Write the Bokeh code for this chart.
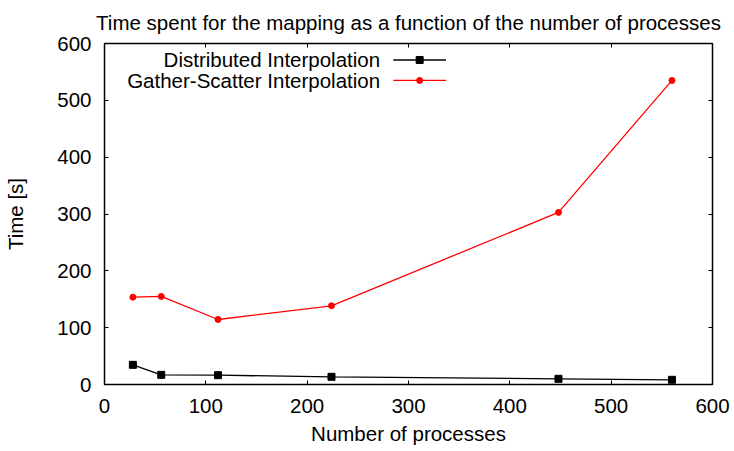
from bokeh.plotting import figure
from bokeh.models import Range1d, LinearAxis, FixedTicker, CustomJSTickFormatter, Label
from bokeh.embed import file_html
from bokeh.resources import INLINE

# ---- data ----
processes = [28, 56, 112, 224, 448, 560]
distributed = [34.6, 17.0, 16.4, 13.5, 10.0, 8.3]
gather_scatter = [153.7, 155.0, 114.4, 138.5, 302.8, 535.0]
series_names = ["Distributed Interpolation", "Gather-Scatter Interpolation"]
series_colors = ["#000000", "#ff0000"]
x_ticks = [0, 100, 200, 300, 400, 500, 600]
y_ticks = [0, 100, 200, 300, 400, 500, 600]
title_text = "Time spent for the mapping as a function of the number of processes"
x_label = "Number of processes"
y_label = "Time [s]"

# ---- style / layout ----
FONT = "Liberation Sans"
FS = "20.5px"

p = figure(width=734, height=451, output_backend="svg", toolbar_location=None,
           x_range=Range1d(0, 600), y_range=Range1d(0, 600),
           min_border_left=104, min_border_right=22, min_border_top=43, min_border_bottom=67)
p.grid.visible = False
p.outline_line_color = "black"
p.outline_line_width = 1.5
p.background_fill_color = "white"
p.border_fill_color = "white"

p.title.text = title_text
p.title.align = "center"
p.title.vertical_align = "top"
p.title.text_font = FONT
p.title.text_font_size = FS
p.title.text_font_style = "normal"
p.title.text_color = "black"
p.title.standoff = 16

def style_axis(ax, ticks, show_labels):
    ax.ticker = FixedTicker(ticks=ticks)
    ax.axis_line_color = None
    ax.major_tick_in = 4
    ax.major_tick_out = 0
    ax.major_tick_line_color = "black"
    ax.major_tick_line_width = 1
    ax.minor_tick_line_color = None
    ax.major_label_text_font = FONT
    ax.major_label_text_font_size = FS
    ax.major_label_text_color = "black"
    ax.axis_label_text_font = FONT
    ax.axis_label_text_font_size = FS
    ax.axis_label_text_font_style = "normal"
    ax.axis_label_text_color = "black"
    if not show_labels:
        ax.formatter = CustomJSTickFormatter(code="return ''")
        ax.major_label_standoff = 0
        ax.major_label_text_font_size = "0px"
        ax.axis_label_standoff = 0

xa = p.xaxis[0]
style_axis(xa, x_ticks, True)
xa.axis_label = x_label
xa.major_label_standoff = 14
xa.axis_label_standoff = 6

ya = p.yaxis[0]
style_axis(ya, y_ticks, True)
ya.axis_label = y_label
ya.major_label_standoff = 13
ya.axis_label_standoff = 27

top_ax = LinearAxis()
style_axis(top_ax, x_ticks, False)
p.add_layout(top_ax, "above")
right_ax = LinearAxis()
style_axis(right_ax, y_ticks, False)
p.add_layout(right_ax, "right")

# ---- series ----
p.line(processes, distributed, line_color=series_colors[0], line_width=1.3)
p.scatter(processes, distributed, marker="square", size=7, color=series_colors[0])
p.line(processes, gather_scatter, line_color=series_colors[1], line_width=1.3)
p.scatter(processes, gather_scatter, marker="circle", size=6, color=series_colors[1])

# ---- gnuplot-style key (text, then sample) ----
key_text_x = 272
key_x0, key_x1, key_xm = 285, 337, 311
key_y = [571, 535]
for name, ky in zip(series_names, key_y):
    p.add_layout(Label(x=key_text_x, y=ky, text=name, text_align="right",
                       text_baseline="middle", text_font=FONT, text_font_size=FS,
                       text_color="black"))
p.segment(x0=[key_x0] * 2, y0=key_y, x1=[key_x1] * 2, y1=key_y,
          line_color=series_colors, line_width=1.3)
p.scatter(x=[key_xm] * 2, y=key_y, marker=["square", "circle"], size=[7, 6],
          color=series_colors)

open("out.html", "w").write(file_html(p, INLINE))
